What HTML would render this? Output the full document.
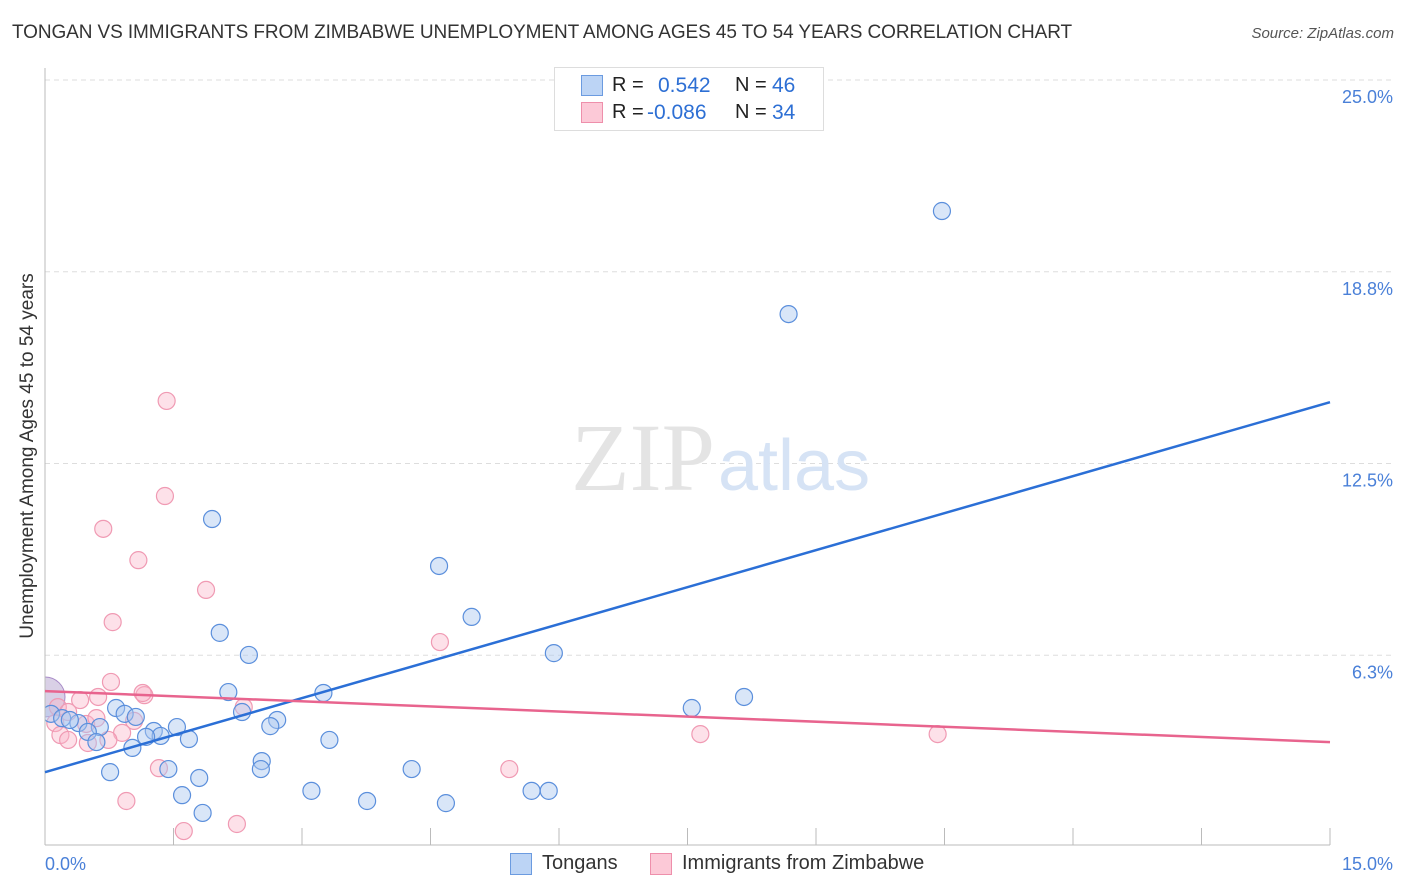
<!DOCTYPE html>
<html><head><meta charset="utf-8">
<style>
body{margin:0;background:#fff;font-family:"Liberation Sans",sans-serif;}
#wrap{position:relative;width:1406px;height:892px;overflow:hidden;}
.t{position:absolute;white-space:nowrap;}
</style></head>
<body>
<div id="wrap">
<div class="t" style="left:12px;top:22px;font-size:19px;color:#333;letter-spacing:-0.1px;">TONGAN VS IMMIGRANTS FROM ZIMBABWE UNEMPLOYMENT AMONG AGES 45 TO 54 YEARS CORRELATION CHART</div>
<div class="t" style="right:12px;top:25px;font-size:15px;color:#555;font-style:italic;">Source: ZipAtlas.com</div>
<div class="t" style="left:28px;top:456px;font-size:19px;color:#333;transform:translate(-50%,-50%) rotate(-90deg);">Unemployment Among Ages 45 to 54 years</div>
<svg id="svg" width="1406" height="892" style="position:absolute;left:0;top:0"></svg>
<div style="position:absolute;left:554px;top:67px;width:268px;height:62px;border:1px solid #ddd;background:#fff;"></div>
<div style="position:absolute;left:581px;top:75px;width:20px;height:19px;background:#bcd4f5;border:1px solid #6b9be0;"></div>
<div style="position:absolute;left:581px;top:102px;width:20px;height:19px;background:#fcc9d7;border:1px solid #ee8fab;"></div>
<div class="t" style="left:612px;top:74px;font-size:20px;color:#222;">R =</div>
<div class="t" style="left:658px;top:74px;font-size:21px;color:#2d6fd4;">0.542</div>
<div class="t" style="left:735px;top:74px;font-size:20px;color:#222;">N =</div>
<div class="t" style="left:772px;top:74px;font-size:21px;color:#2d6fd4;">46</div>
<div class="t" style="left:612px;top:101px;font-size:20px;color:#222;">R =</div>
<div class="t" style="left:647px;top:101px;font-size:21px;color:#2d6fd4;">-0.086</div>
<div class="t" style="left:735px;top:101px;font-size:20px;color:#222;">N =</div>
<div class="t" style="left:772px;top:101px;font-size:21px;color:#2d6fd4;">34</div>
<div style="position:absolute;left:510px;top:853px;width:20px;height:20px;background:#bcd4f5;border:1px solid #6b9be0;"></div>
<div class="t" style="left:542px;top:852px;font-size:20px;color:#333;">Tongans</div>
<div style="position:absolute;left:650px;top:853px;width:20px;height:20px;background:#fcc9d7;border:1px solid #ee8fab;"></div>
<div class="t" style="left:682px;top:852px;font-size:20px;color:#333;">Immigrants from Zimbabwe</div>
</div>
<script>
const yTicks=[25,18.75,12.5,6.25];
const yTickLabels=["25.0%","18.8%","12.5%","6.3%"];
const xTickVals=[1.5,3,4.5,6,7.5,9,10.5,12,13.5,15];
const tonganX=[10.47,8.68,1.95,4.60,4.98,2.04,5.94,2.38,2.14,3.25,8.16,7.55,0.83,2.30,0.93,1.06,2.71,0.07,0.20,0.39,0.64,2.63,1.54,1.27,0.50,1.35,1.18,1.68,3.32,0.60,1.02,2.53,2.52,4.28,1.44,0.76,1.80,1.60,3.11,5.68,5.88,3.76,4.68,1.84,0.29];
const tonganY=[20.73,17.37,10.69,9.16,7.50,6.98,6.32,6.26,5.05,5.02,4.89,4.53,4.53,4.40,4.34,4.24,4.14,4.34,4.20,4.04,3.91,3.94,3.91,3.78,3.75,3.62,3.59,3.52,3.49,3.42,3.23,2.80,2.54,2.54,2.54,2.44,2.25,1.69,1.83,1.83,1.83,1.50,1.43,1.11,4.14];
const zimX=[1.42,1.40,0.68,1.09,1.88,0.79,4.61,0.77,0.62,1.16,0.41,2.32,0.15,0.27,0.12,0.48,1.04,0.18,0.90,0.50,0.74,7.65,10.42,1.33,5.42,0.95,1.62,2.24,0.60,0.27,1.14];
const zimY=[14.54,11.44,10.37,9.35,8.38,7.33,6.68,5.38,4.89,4.95,4.79,4.56,4.56,4.40,4.04,4.01,4.11,3.65,3.72,3.39,3.49,3.68,3.68,2.57,2.54,1.50,0.52,0.75,4.20,3.49,5.02];
const tonganLine=[2.44,14.5];
const zimLine=[5.08,3.42];
const xMax=15;
const X0=45,X1=1330,Y0=847,PPU=767/25;
const sx=v=>X0+v/xMax*(X1-X0), sy=v=>Y0-v*PPU;
const svg=document.getElementById('svg');const NS='http://www.w3.org/2000/svg';
function mk(t,a,p){const e=document.createElementNS(NS,t);for(const k in a)e.setAttribute(k,a[k]);(p||svg).appendChild(e);return e;}
yTicks.forEach((v,i)=>{
 const g=mk('line',{x1:X0,x2:1395,y1:sy(v),y2:sy(v),stroke:'#ddd','stroke-dasharray':'5,4'});
 
 
 const t=mk('text',{x:1393,y:sy(v)+23,'text-anchor':'end','font-size':18,fill:'#4a80d8','font-family':'Liberation Sans,sans-serif'});
 t.textContent=yTickLabels[i];
 
 
});
xTickVals.forEach(v=>{const l=mk('line',{x1:sx(v),x2:sx(v),y1:828,y2:845,stroke:'#bbb'});
 
 });
[[0,"0.0%",'start',45],[15,"15.0%",'end',1393]].forEach(a=>{const t=mk('text',{x:a[3],y:870,'text-anchor':a[2],'font-size':18,fill:'#4a80d8','font-family':'Liberation Sans,sans-serif'});t.textContent=a[1];
 
 });
const w1=mk('text',{x:715,y:490,'text-anchor':'end','font-size':96,fill:'#e4e4e4','font-family':'Liberation Serif,serif'});w1.textContent='ZIP';


const w2=mk('text',{x:718,y:490,'font-size':72,fill:'#d6e3f5','font-family':'Liberation Sans,sans-serif'});w2.textContent='atlas';


const big=mk('circle',{cx:sx(0),cy:sy(4.89),r:20,fill:'rgba(170,150,200,0.45)',stroke:'#a88bc8'});


zimX.forEach((v,i)=>{const c=mk('circle',{cx:sx(v),cy:sy(zimY[i]),r:8.5,fill:'rgba(250,180,200,0.4)',stroke:'#f09ab3','stroke-width':1.2});
 
 });
tonganX.forEach((v,i)=>{const c=mk('circle',{cx:sx(v),cy:sy(tonganY[i]),r:8.5,fill:'rgba(170,200,240,0.45)',stroke:'#5b8fdc','stroke-width':1.2});
 
 });
const mask=mk('rect',{x:0,y:660,width:X0,height:80,fill:'#fff'});


const ax=mk('line',{x1:X0,x2:X0,y1:68,y2:845,stroke:'#bbb'});


const bx=mk('line',{x1:X0,x2:X1,y1:845,y2:845,stroke:'#bbb'});


const l1=mk('line',{x1:sx(0),x2:sx(xMax),y1:sy(tonganLine[0]),y2:sy(tonganLine[1]),stroke:'#2b6fd6','stroke-width':2.5});


const l2=mk('line',{x1:sx(0),x2:sx(xMax),y1:sy(zimLine[0]),y2:sy(zimLine[1]),stroke:'#e8648e','stroke-width':2.5});


</script>
</body></html>
